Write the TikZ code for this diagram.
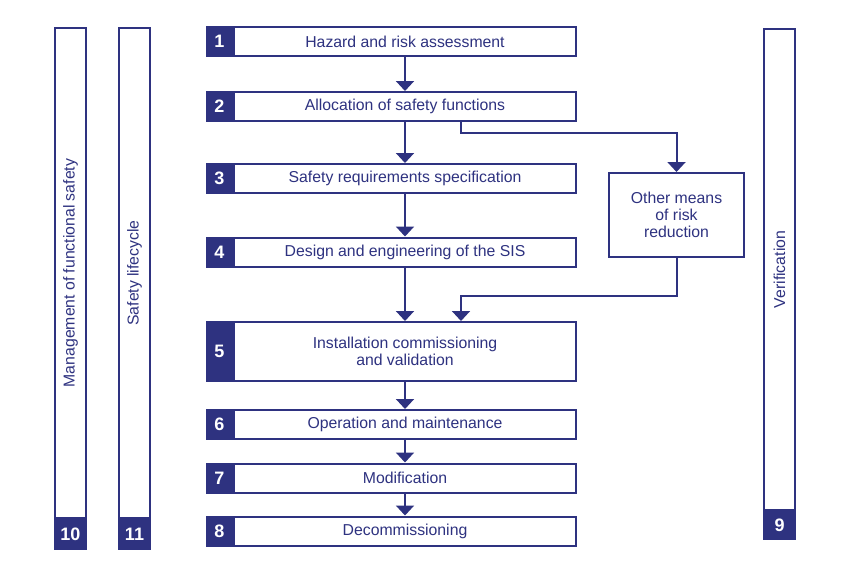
\documentclass[tikz,border=0pt]{standalone}
\usepackage{fontspec}
\setmainfont{Liberation Sans}
\usetikzlibrary{arrows.meta}
\definecolor{navy}{RGB}{46,50,128}
\newcommand{\StepX}{405}
\newcommand{\TabW}{25}

\tikzset{
  stepbox/.style={draw=navy, line width=2pt, fill=white, minimum width=342pt,
    minimum height=29pt, inner sep=0pt, text=navy, align=center,
    font=\fontsize{15.8}{17}\selectfont},
  numtab/.style={draw=navy, fill=navy, line width=2pt, minimum width=\TabW pt,
    inner sep=0pt, text=white, font=\fontsize{18}{18}\selectfont\bfseries},
  sidebar/.style={draw=navy, line width=2pt, fill=white, minimum height=31pt,
    inner sep=0pt, text=navy, font=\fontsize{15.8}{17}\selectfont},
  flow/.style={draw=navy, line width=2pt, -{Triangle[width=18pt,length=10pt]}}
}

\begin{document}
\begin{tikzpicture}[x=1pt,y=-1pt]
\useasboundingbox (0,0) rectangle (850,576);

% main steps
\node[stepbox] (s1) at (\StepX,41.5) {Hazard and risk assessment};
\node[numtab, minimum height=29pt, anchor=east] (t1) at (s1.west) {1};
\node[stepbox] (s2) at (\StepX,106.5) {Allocation of safety functions};
\node[numtab, minimum height=29pt, anchor=east] (t2) at (s2.west) {2};
\node[stepbox] (s3) at (\StepX,178.5) {Safety requirements specification};
\node[numtab, minimum height=29pt, anchor=east] (t3) at (s3.west) {3};
\node[stepbox] (s4) at (\StepX,252) {Design and engineering of the SIS};
\node[numtab, minimum height=29pt, anchor=east] (t4) at (s4.west) {4};
\node[stepbox, minimum height=59pt] (s5) at (\StepX,351.5) {Installation commissioning\\and validation};
\node[numtab, minimum height=59pt, anchor=east] (t5) at (s5.west) {5};
\node[stepbox] (s6) at (\StepX,424.5) {Operation and maintenance};
\node[numtab, minimum height=29pt, anchor=east] (t6) at (s6.west) {6};
\node[stepbox] (s7) at (\StepX,478) {Modification};
\node[numtab, minimum height=29pt, anchor=east] (t7) at (s7.west) {7};
\node[stepbox] (s8) at (\StepX,531) {Decommissioning};
\node[numtab, minimum height=29pt, anchor=east] (t8) at (s8.west) {8};

% other means
\node[stepbox, minimum width=135pt, minimum height=84pt] (other) at (676.5,215) {Other means\\of risk\\reduction};

% side bars
\node[sidebar, rotate=90, minimum width=490pt] (mgmt) at (70.5,273) {Management of functional safety};
\node[numtab, minimum width=31pt, minimum height=29pt, anchor=north] (t10) at (mgmt.west) {10};
\node[sidebar, rotate=90, minimum width=490pt] (life) at (134.5,273) {Safety lifecycle};
\node[numtab, minimum width=31pt, minimum height=29pt, anchor=north] (t11) at (life.west) {11};
\node[sidebar, rotate=90, minimum width=481pt] (verif) at (779.5,269.5) {Verification};
\node[numtab, minimum width=31pt, minimum height=27pt, anchor=north] (t9) at (verif.west) {9};

% connectors
\coordinate (fork) at (461,133);
\coordinate (join) at (461,296);
\draw[flow] (s1) -- (s2);
\draw[flow] (s2) -- (s3);
\draw[flow] (s3) -- (s4);
\draw[flow] (s4) -- (s5);
\draw[flow] (s5) -- (s6);
\draw[flow] (s6) -- (s7);
\draw[flow] (s7) -- (s8);
\draw[flow] (fork |- s2.south) -- (fork) -| (other);
\draw[flow] (other.south) |- (join) -- (join |- s5.north);
\end{tikzpicture}
\end{document}
